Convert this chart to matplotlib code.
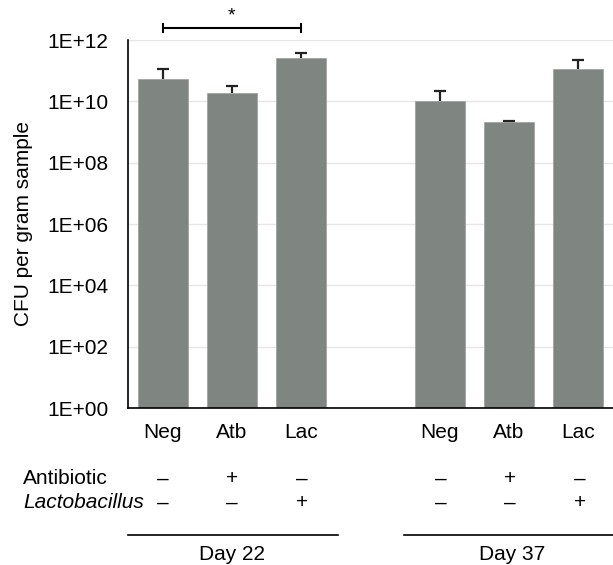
import numpy as np
import matplotlib.pyplot as plt

plt.rcParams['font.family'] = ['Liberation Sans', 'DejaVu Sans']

groups = ['Day 22', 'Day 37']
treatments = ['Neg', 'Atb', 'Lac']
antibiotic = ['–', '+', '–']
lactobacillus = ['–', '–', '+']
day22_means = [5.3e10, 1.9e10, 2.6e11]
day22_upper = [1.1e11, 3.2e10, 3.8e11]
day37_means = [1.0e10, 2.1e9, 1.1e11]
day37_upper = [2.2e10, 2.3e9, 2.2e11]
yticks = [1e0, 1e2, 1e4, 1e6, 1e8, 1e10, 1e12]
ytick_labels = ['1E+00', '1E+02', '1E+04', '1E+06', '1E+08', '1E+10', '1E+12']

means = day22_means + day37_means
upper = day22_upper + day37_upper
pos = np.array([0, 1, 2, 4, 5, 6])
FS = 15

fig = plt.figure(figsize=(6.13, 5.65), dpi=100)
ax = fig.add_axes([128 / 613, 1 - 408 / 565, 1 - 128 / 613, (408 - 40) / 565])

ax.bar(pos, means, width=0.72, color='#7f8682', edgecolor='#a0a5a2', linewidth=0.6, zorder=2)
# upper error bars only
ax.vlines(pos, means, upper, color='#222222', lw=1.6, zorder=3)
ax.plot(pos, upper, ls='none', marker='_', ms=9, mew=1.6, color='#222222', zorder=3)

ax.set_yscale('log')
ax.set_ylim(1, 1e12)
ax.set_xlim(-0.5, 6.5)
ax.set_yticks(yticks)
ax.set_yticklabels(ytick_labels, fontsize=FS)
ax.minorticks_off()
ax.yaxis.grid(True, color='#e6e6e6', linewidth=1, zorder=0)
ax.tick_params(axis='y', length=0, pad=14)
ax.tick_params(axis='x', length=0, pad=11)
ax.set_xticks(pos)
ax.set_xticklabels(treatments * 2, fontsize=FS)
ax.set_ylabel('CFU per gram sample', fontsize=FS)
ax.yaxis.set_label_coords(-0.195, 0.5)
for s in ['top', 'right']:
    ax.spines[s].set_visible(False)
for s in ['left', 'bottom']:
    ax.spines[s].set_linewidth(1.2)

# significance bracket
trans = ax.get_xaxis_transform()
yb = 1 + 12 / 368
ax.plot([0, 2], [yb, yb], color='black', lw=1.5, transform=trans, clip_on=False)
for x in [0, 2]:
    ax.plot([x, x], [yb - 0.011, yb + 0.011], color='black', lw=1.5, transform=trans, clip_on=False)
ax.text(1, yb + 0.01, '*', ha='center', va='bottom', fontsize=14, transform=trans)

# treatment table below the axis
def fy(ypix):
    return 1 - ypix / 565

for p, a, l in zip(pos, antibiotic * 2, lactobacillus * 2):
    xf = (128 + (p + 0.5) * 69.5) / 613
    fig.text(xf, fy(479), a, ha='center', va='center', fontsize=FS)
    fig.text(xf, fy(503), l, ha='center', va='center', fontsize=FS)
fig.text(23 / 613, fy(479), 'Antibiotic', ha='left', va='center', fontsize=FS)
fig.text(23 / 613, fy(503), 'Lactobacillus', ha='left', va='center', fontsize=FS, style='italic')

for (x0, x1), label, xc in zip([(128, 338), (404, 613)], groups, [232, 512]):
    fig.add_artist(plt.Line2D([x0 / 613, x1 / 613], [fy(535), fy(535)], color='black', lw=1.2))
    fig.text(xc / 613, fy(555), label, ha='center', va='center', fontsize=FS)

fig.savefig('out.png', dpi=100)
